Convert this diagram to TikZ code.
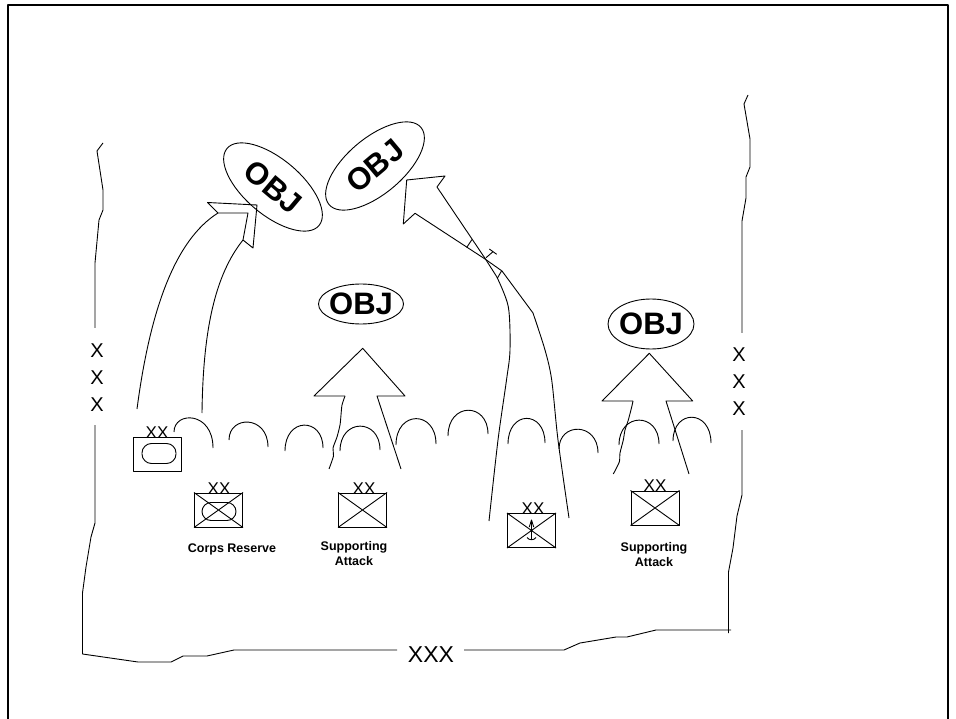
\documentclass[tikz,border=0pt]{standalone}
\usepackage{fontspec}
\setmainfont{Liberation Sans}
\usetikzlibrary{shapes.geometric}

\begin{document}
\begin{tikzpicture}[x=1pt,y=-1pt,line join=round,
  ln/.style={line width=0.9pt},
  unitbox/.style={draw,line width=1pt,minimum width=48pt,minimum height=34pt,inner sep=0pt},
  echelon/.style={font=\fontsize{17}{17}\selectfont,inner sep=0pt,anchor=base},
  objective/.style={draw,ellipse,line width=0.9pt,inner sep=0pt},
  objtext/.style={inner sep=0pt,font=\bfseries\fontsize{31}{31}\selectfont},
  caption/.style={font=\bfseries\fontsize{12.5}{15}\selectfont,align=center,inner sep=0pt},
  bndmark/.style={font=\fontsize{20}{27}\selectfont,align=center,inner sep=0pt}
]
\useasboundingbox (0,0) rectangle (956,719);

% outer frame
\draw[line width=1.4pt] (8,724) -- (8,5) -- (948,5) -- (948,724);

% ---- corps boundaries ----
\node[bndmark] (xl) at (97,378) {X\\X\\X};
\node[bndmark] (xr) at (739,382) {X\\X\\X};
\node[bndmark,font=\fontsize{23}{27}\selectfont] (xb) at (431,655) {XXX};
\draw[ln] (103,143) -- (97,151) -- (103,190) -- (103,210) -- (99,220) -- (95,263) -- (95,328);
\draw[ln] (95,425) -- (95,523) -- (91,537) -- (86,567) -- (82.5,593) -- (82.5,654)
  -- (138,662) -- (171,662) -- (183,656) -- (207,656) -- (234,650) -- (397,650);
\draw[ln] (464,650) -- (564,650) -- (580,643) -- (616,637) -- (627,637) -- (656,630) -- (731,630);
\draw[ln] (748,95) -- (744,104) -- (750,139) -- (750,167) -- (746,177) -- (746,198) -- (742,221) -- (742,333);
\draw[ln] (742,430) -- (742,495) -- (737,516) -- (733,548) -- (728.5,572) -- (728.5,633);

% ---- forward line of own troops (arcs) ----
\draw[ln] (174,432) .. controls (174,411) and (213,411) .. (213,448);
\draw[ln] (229,440) .. controls (229,415) and (268,415) .. (268,447);
\draw[ln] (285,451) .. controls (285,417) and (323,417) .. (323,448);
\draw[ln] (340,451) .. controls (340,418) and (380,418) .. (380,450);
\draw[ln] (396,445) .. controls (396,410) and (436,410) .. (436,444);
\draw[ln] (448,436) .. controls (448,402) and (488,402) .. (488,434);
\draw[ln] (508,444) .. controls (508,410) and (545,410) .. (545,443);
\draw[ln] (559,449) .. controls (559,422) and (598,422) .. (598,453);
\draw[ln] (619,445) .. controls (619,412) and (659,412) .. (659,444);
\draw[ln] (673,441) .. controls (673,409) and (711,409) .. (711,443);

% ---- objectives ----
\node[objective,minimum width=120pt,minimum height=56pt,rotate=-40] (obja) at (273,187) {};
\node[objtext,rotate=-40] (objatext) at (obja.center) {OBJ};
\node[objective,minimum width=120pt,minimum height=56pt,rotate=40] (objb) at (375,166) {};
\node[objtext,rotate=40] (objbtext) at (objb.center) {OBJ};
\node[objective,minimum width=85pt,minimum height=40pt] (objc) at (361,304) {};
\node[objtext] (objctext) at (objc.center) {OBJ};
\node[objective,minimum width=86pt,minimum height=50pt] (objd) at (651,324) {};
\node[objtext] (objdtext) at (objd.center) {OBJ};

% ---- units ----
\node[unitbox] (ua) at (157,454) {};
\draw[ln,rounded corners=9.5pt] (142,443.5) rectangle (176,463.5);
\node[echelon] (uaxx) at (157,438) {XX};

\node[unitbox] (ub) at (218.5,510) {};
\draw[ln] (ub.north west) -- (ub.south east) (ub.south west) -- (ub.north east);
\draw[ln,rounded corners=9pt] (202,502.5) rectangle (236,520.5);
\node[echelon] (ubxx) at (219,494) {XX};
\node[caption] (ubcap) at (232,549) {Corps Reserve};

\node[unitbox] (uc) at (362.5,510) {};
\draw[ln] (uc.north west) -- (uc.south east) (uc.south west) -- (uc.north east);
\node[echelon] (ucxx) at (364,494) {XX};
\node[caption] (uccap) at (354,554) {Supporting\\Attack};

\node[unitbox] (ud) at (531.5,530.5) {};
\draw[ln] (ud.north west) -- (ud.south east) (ud.south west) -- (ud.north east);
\draw[ln] (531.5,520) -- (531.5,539);
\draw[ln] (529.3,527) -- (531.5,520) -- (533.7,527);
\draw[ln] (527,537.5) .. controls (529,540.5) and (534,540.5) .. (536,537.5);
\node[echelon] (udxx) at (533,514) {XX};

\node[unitbox] (ue) at (655,508) {};
\draw[ln] (ue.north west) -- (ue.south east) (ue.south west) -- (ue.north east);
\node[echelon] (uexx) at (655,491) {XX};
\node[caption] (uecap) at (654,555) {Supporting\\Attack};

% ---- main attack (curved, to left objective) ----
\draw[ln] (137,409) .. controls (150,310) and (175,240) .. (218,213);
\draw[ln] (202,413) .. controls (203,330) and (215,275) .. (243,240);
\draw[ln] (218,213) -- (207.5,202.5) -- (257,205) -- (253,248) -- (243,240) -- (248,213) -- cycle;

% ---- supporting attack arrows ----
\draw[ln] (345,396) -- (314,396) -- (362.7,348.3) -- (405,396) -- (377,396) -- (401,469);
\draw[ln] plot[smooth,tension=0.4] coordinates {(345,396) (342,405) (341,415) (340,425) (337,437) (333,448) (333.5,456) (329,469)};

\draw[ln] (633,401) -- (602,401) -- (649.3,353.3) -- (692.7,401) -- (666,401) -- (689,474);
\draw[ln] plot[smooth,tension=0.4] coordinates {(633,401) (631.7,407) (628.3,420) (625,430) (623.3,440) (620,453) (619.3,462) (613.3,474)};

% ---- air assault axis to right objective ----
\draw[ln] (437,187) -- (445,176) -- (406.7,180) -- (403.3,224) -- (415,213.3);
\draw[ln] (415,213.3) -- (485,259) -- (502,271) -- (533,313);
\draw[ln] plot[smooth,tension=0.5] coordinates {(533,313) (545,350) (551.7,380) (558,440) (569,518)};
\draw[ln] (437,187) -- (485,258.3) -- (496.7,276.7);
\draw[ln] plot[smooth,tension=0.5] coordinates {(496.7,276.7) (508.3,306.7) (510,350) (506.5,380) (498,440) (489,521)};
\draw[ln] (472,239.5) -- (466.7,247.5);
\draw[ln] (501.5,271) -- (497.3,278.3);
\draw[ln] (489.3,249) -- (496.7,254.3) (493,251.7) -- (486,257.7);
\end{tikzpicture}
\end{document}
